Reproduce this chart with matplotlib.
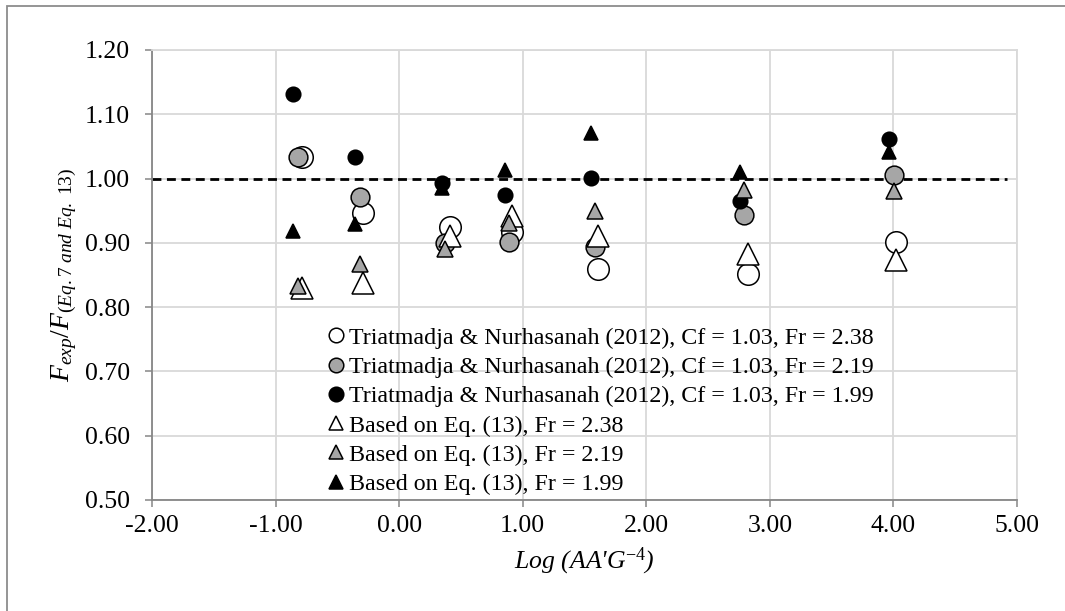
import numpy as np
import matplotlib
matplotlib.use('Agg')
import matplotlib.pyplot as plt
from matplotlib.lines import Line2D
from matplotlib.ticker import FormatStrFormatter, MultipleLocator

plt.rcParams['font.family'] = 'Liberation Serif'
plt.rcParams['mathtext.fontset'] = 'custom'
plt.rcParams['mathtext.rm'] = 'Liberation Serif'
plt.rcParams['mathtext.it'] = 'Liberation Serif:italic'
plt.rcParams['axes.unicode_minus'] = False

# Log(AA'G^-4) positions for each Froude number
x_238 = [-0.79, -0.29, 0.41, 0.91, 1.61, 2.82, 4.02]
x_219 = [-0.82, -0.32, 0.375, 0.885, 1.587, 2.788, 4.003]
x_199 = [-0.856, -0.356, 0.345, 0.853, 1.555, 2.756, 3.962]

# Triatmadja & Nurhasanah (2012)
tn_238 = [1.033, 0.947, 0.925, 0.917, 0.859, 0.851, 0.902]
tn_219 = [1.033, 0.971, 0.900, 0.901, 0.893, 0.944, 1.006]
tn_199 = [1.131, 1.033, 0.993, 0.975, 1.001, 0.965, 1.062]

# Based on Eq. (13)
eq_238 = [0.830, 0.838, 0.911, 0.942, 0.911, 0.883, 0.874]
eq_219 = [0.833, 0.867, 0.890, 0.931, 0.949, 0.983, 0.980]
eq_199 = [0.918, 0.929, 0.985, 1.014, 1.071, 1.011, 1.041]

labels = ['Triatmadja & Nurhasanah (2012), Cf = 1.03, Fr = 2.38',
          'Triatmadja & Nurhasanah (2012), Cf = 1.03, Fr = 2.19',
          'Triatmadja & Nurhasanah (2012), Cf = 1.03, Fr = 1.99',
          'Based on Eq. (13), Fr = 2.38',
          'Based on Eq. (13), Fr = 2.19',
          'Based on Eq. (13), Fr = 1.99']

gray = '#a6a6a6'
series = [
    (x_238, tn_238, 'o', 'white', 15.5),
    (x_219, tn_219, 'o', gray, 13.5),
    (x_199, tn_199, 'o', 'black', 10.5),
    (x_238, eq_238, '^', 'white', 16),
    (x_219, eq_219, '^', gray, 11.5),
    (x_199, eq_199, '^', 'black', 10.5),
]

fig = plt.figure(figsize=(10.65, 6.11), dpi=100)
ax = fig.add_axes([152/1065, 1-500/611, (1017-152)/1065, 450/611])

# outer chart frame (only top/left visible in the crop)
fig.add_artist(plt.Rectangle((7/1065, -0.1), 1.2, 1-6/611+0.1, transform=fig.transFigure,
                             fill=False, edgecolor='#8c8c8c', linewidth=1.3))

for xs, ys, m, fc, ms in series:
    ax.plot(xs, ys, linestyle='none', marker=m, markersize=ms, markerfacecolor=fc,
            markeredgecolor='black', markeredgewidth=1.1, zorder=3)

ax.plot([-2, 4.92], [1.0, 1.0], color='black', linestyle=(0, (3.2, 2.0)), linewidth=2.0, zorder=2)

ax.set_xlim(-2, 5)
ax.set_ylim(0.5, 1.2)
ax.xaxis.set_major_locator(MultipleLocator(1))
ax.yaxis.set_major_locator(MultipleLocator(0.1))
ax.xaxis.set_major_formatter(FormatStrFormatter('%.2f'))
ax.yaxis.set_major_formatter(FormatStrFormatter('%.2f'))
ax.grid(True, color='#d9d9d9', linewidth=1.3, zorder=0)
ax.set_axisbelow(True)
for s in ['top', 'right']:
    ax.spines[s].set_color('#d9d9d9')
    ax.spines[s].set_linewidth(1.3)
for s in ['left', 'bottom']:
    ax.spines[s].set_color('#868686')
    ax.spines[s].set_linewidth(1.3)
ax.tick_params(axis='both', direction='out', length=5, width=1.1, color='#868686',
               labelsize=18.5)
ax.tick_params(axis='y', pad=11)
ax.tick_params(axis='x', pad=6)

ax.set_xlabel(r"Log (AA'G$^{\mathit{-4}}$)", fontsize=18.5, fontstyle='italic', labelpad=6)
ax.set_ylabel(r'$\mathit{F_{exp}/F_{(Eq.7\ and\ Eq.\ 13)}}$', fontsize=20, labelpad=4)

handles = []
for (xs, ys, m, fc, ms), lab in zip(series, labels):
    handles.append(Line2D([], [], linestyle='none', marker=m, markersize=10.5,
                          markerfacecolor=fc, markeredgecolor='black',
                          markeredgewidth=1.1, label=lab))
ax.legend(handles=handles, loc='upper left', bbox_to_anchor=(326/1065, 1-327/611),
          bbox_transform=fig.transFigure, frameon=False, fontsize=17.3,
          handlelength=0.8, handletextpad=0.15, labelspacing=0.31, borderpad=0,
          borderaxespad=0)

plt.savefig('out.png', dpi=100)
